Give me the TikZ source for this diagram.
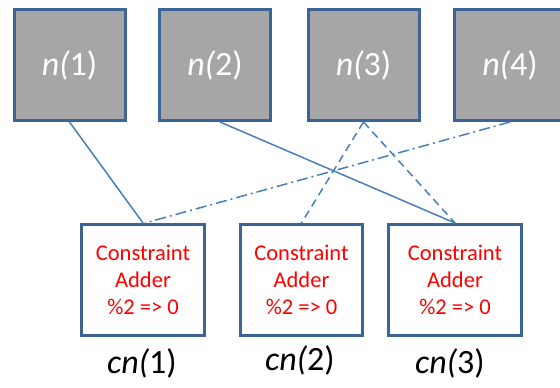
\documentclass[tikz,border=0pt]{standalone}
\usepackage{fontspec}
\setmainfont{Carlito}
\definecolor{boxgray}{HTML}{A6A6A6}
\definecolor{boxblue}{HTML}{3C6496}
\definecolor{linkblue}{HTML}{4A7EBB}
\definecolor{addred}{HTML}{FF0000}
\begin{document}
\begin{tikzpicture}[x=1pt,y=-1pt,
  topbox/.style={draw=boxblue, line width=3pt, fill=boxgray, minimum width=111pt, minimum height=111pt, inner sep=0pt, text=white, font=\fontsize{34}{36}\selectfont},
  addbox/.style={draw=boxblue, line width=3pt, fill=white, minimum height=111pt, inner sep=0pt, text=addred, align=center, font=\fontsize{22.5}{27}\selectfont},
  cnlabel/.style={font=\fontsize{34}{36}\selectfont, inner sep=0pt},
  link/.style={draw=linkblue, line width=1.5pt},
  dlink/.style={link, dash pattern=on 8pt off 5pt},
  ddlink/.style={link, dash pattern=on 11pt off 4pt on 2pt off 4pt}]
\useasboundingbox (0,0) rectangle (560,388);
\clip (0,0) rectangle (560,388);
\node[topbox] (n1) at (69.5,65) {\textit{n(}1)};
\node[topbox] (n2) at (215,65) {\textit{n(}2)};
\node[topbox] (n3) at (363.5,65) {\textit{n(}3)};
\node[topbox] (n4) at (510,65) {\textit{n(}4)};
\node[addbox, minimum width=123pt] (c1) at (143,280) {Constraint\\Adder\\\%2 => 0};
\node[addbox, minimum width=122pt] (c2) at (301.5,280) {Constraint\\Adder\\\%2 => 0};
\node[addbox, minimum width=133pt] (c3) at (455,280) {Constraint\\Adder\\\%2 => 0};
\node[cnlabel] (l1) at (142,363) {\textit{cn(}1)};
\node[cnlabel] (l2) at (300,360) {\textit{cn(}2)};
\node[cnlabel] (l3) at (450,363) {\textit{cn(}3)};
\draw[link] (n1.south) -- (c1.north);
\draw[link] ([xshift=5pt]n2.south) -- (c3.north);
\draw[dlink] (n3.south) -- (c2.north);
\draw[dlink] (n3.south) -- (c3.north);
\draw[ddlink] (n4.south) -- ([xshift=2pt]c1.north);
\end{tikzpicture}
\end{document}
